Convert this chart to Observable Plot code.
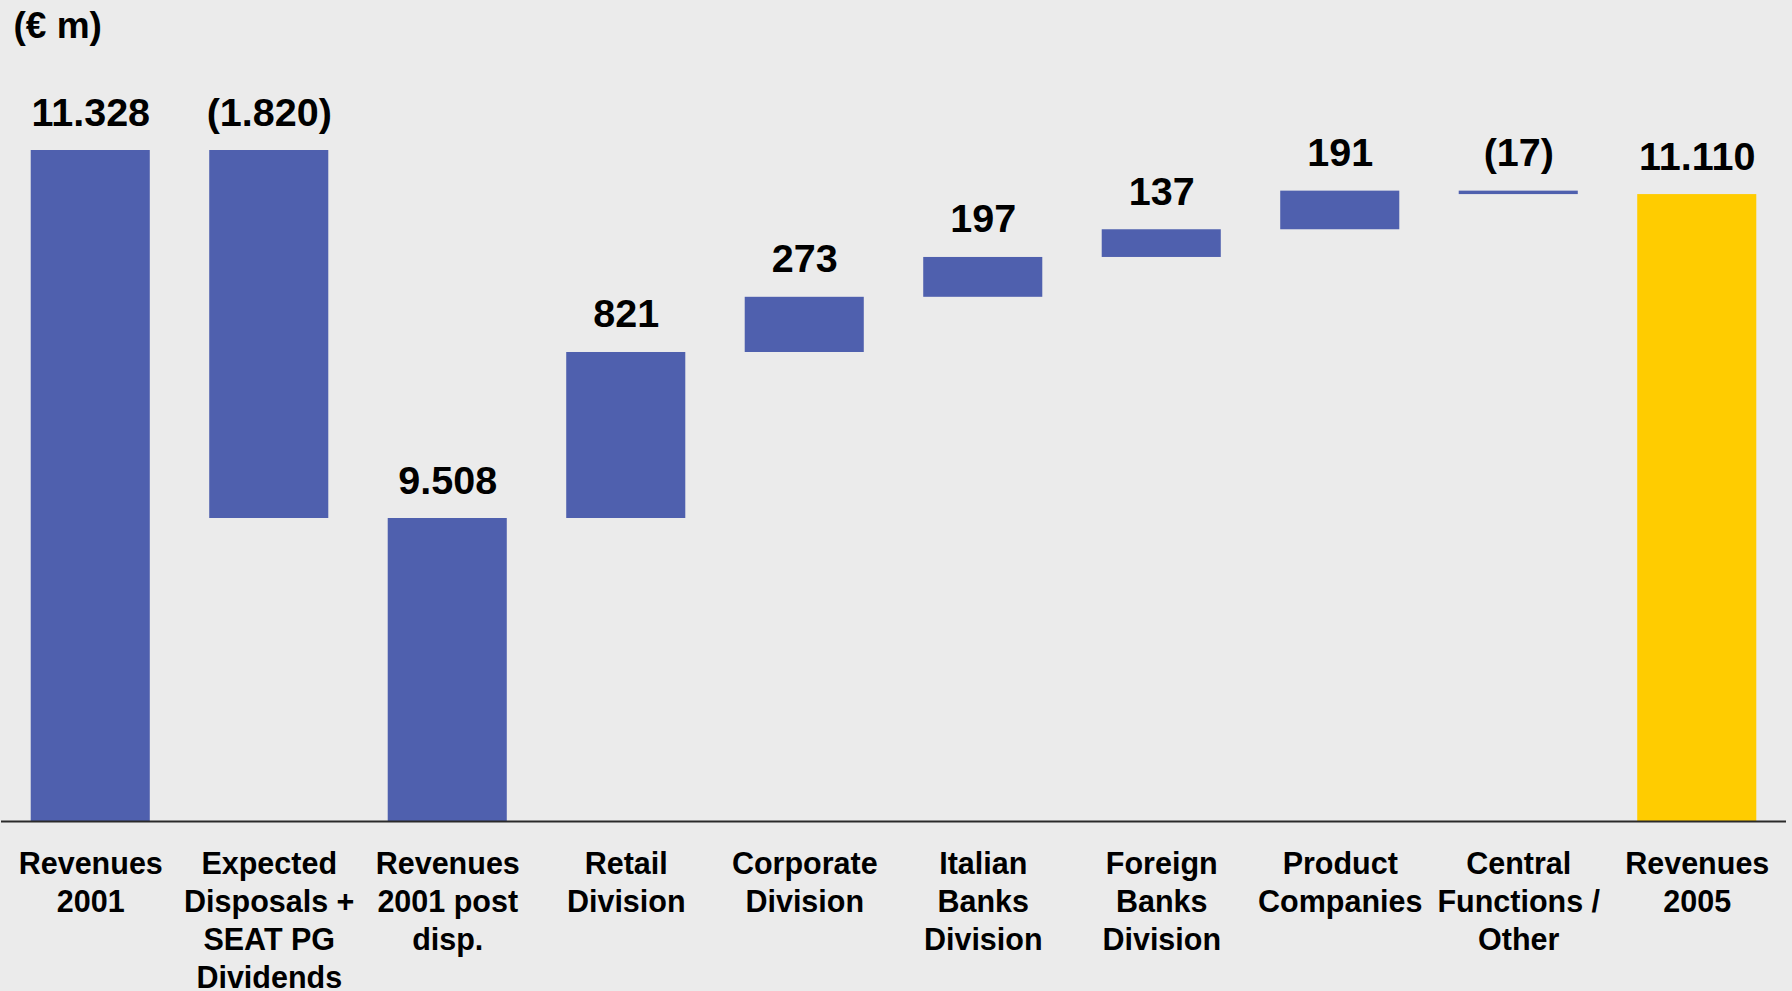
<!DOCTYPE html>
<html>
<head>
<meta charset="utf-8">
<script src="https://cdn.jsdelivr.net/npm/d3@7"></script>
<script src="https://cdn.jsdelivr.net/npm/@observablehq/plot@0.6"></script>
<style>
  html, body { margin: 0; padding: 0; background: #ebebeb; }
  #chart svg { display: block; }
</style>
</head>
<body>
<div id="chart"></div>
<script>
// ---- data ----
const unitLabel = "(€ m)";
const categories = [
  "Revenues\n2001",
  "Expected\nDisposals +\nSEAT PG\nDividends",
  "Revenues\n2001 post\ndisp.",
  "Retail\nDivision",
  "Corporate\nDivision",
  "Italian\nBanks\nDivision",
  "Foreign\nBanks\nDivision",
  "Product\nCompanies",
  "Central\nFunctions /\nOther",
  "Revenues\n2005"
];
const values = [11328, -1820, 9508, 821, 273, 197, 137, 191, -17, 11110];
const kinds  = ["total", "delta", "total", "delta", "delta", "delta", "delta", "delta", "delta", "final"];

// ---- build waterfall rows ----
let running = 0;
const rows = categories.map((cat, i) => {
  const v = values[i];
  let y1, y2;
  if (kinds[i] === "delta") { y1 = running; y2 = running + v; running = y2; }
  else { y1 = 0; y2 = v; running = v; }
  return { cat, value: v, kind: kinds[i], y1, y2 };
});

const loc = d3.formatLocale({ decimal: ",", thousands: ".", grouping: [3], currency: ["€", ""] });
const fmt = loc.format(",d");
rows.forEach(d => { d.label = d.value < 0 ? `(${fmt(-d.value)})` : fmt(d.value); });

// axis is broken below the post-disposal subtotal (as in the reference)
const breakValue = values[2];
const topValue = d3.max(rows, d => Math.max(d.y1, d.y2));

const chart = Plot.plot({
  width: 1792,
  height: 991,
  marginLeft: 1,
  marginRight: 6,
  marginTop: 0,
  marginBottom: 0,
  style: { background: "#ebebeb", fontFamily: "'Liberation Sans', Arial, sans-serif", color: "#000" },
  x: { domain: categories, paddingInner: 0.333, paddingOuter: 0.1665, round: false, axis: null },
  y: { type: "linear", domain: [0, breakValue, topValue], range: [821, 518, 150], axis: null },
  marks: [
    Plot.barY(rows, {
      x: "cat", y1: "y1", y2: "y2",
      fill: d => d.kind === "final" ? "#FFCC00" : "#4F60AE"
    }),
    Plot.ruleY([0], { stroke: "#2a2a2a", strokeWidth: 2.2 }),
    Plot.text(rows, {
      x: "cat", y: d => Math.max(d.y1, d.y2), text: "label",
      lineAnchor: "bottom", dy: -25, fontSize: 39.5, fontWeight: "bold", fill: "#000"
    }),
    Plot.text(rows, {
      x: "cat", y: () => 0, text: "cat",
      lineAnchor: "top", dy: 26.2, fontSize: 30.5, lineHeight: 1.236, fontWeight: "bold", fill: "#000"
    }),
    Plot.text([unitLabel], {
      frameAnchor: "top-left", text: d => d, textAnchor: "start", lineAnchor: "bottom",
      dx: 12, dy: 37, fontSize: 37, fontWeight: "bold", fill: "#000"
    })
  ]
});
document.getElementById("chart").append(chart);
</script>
</body>
</html>
